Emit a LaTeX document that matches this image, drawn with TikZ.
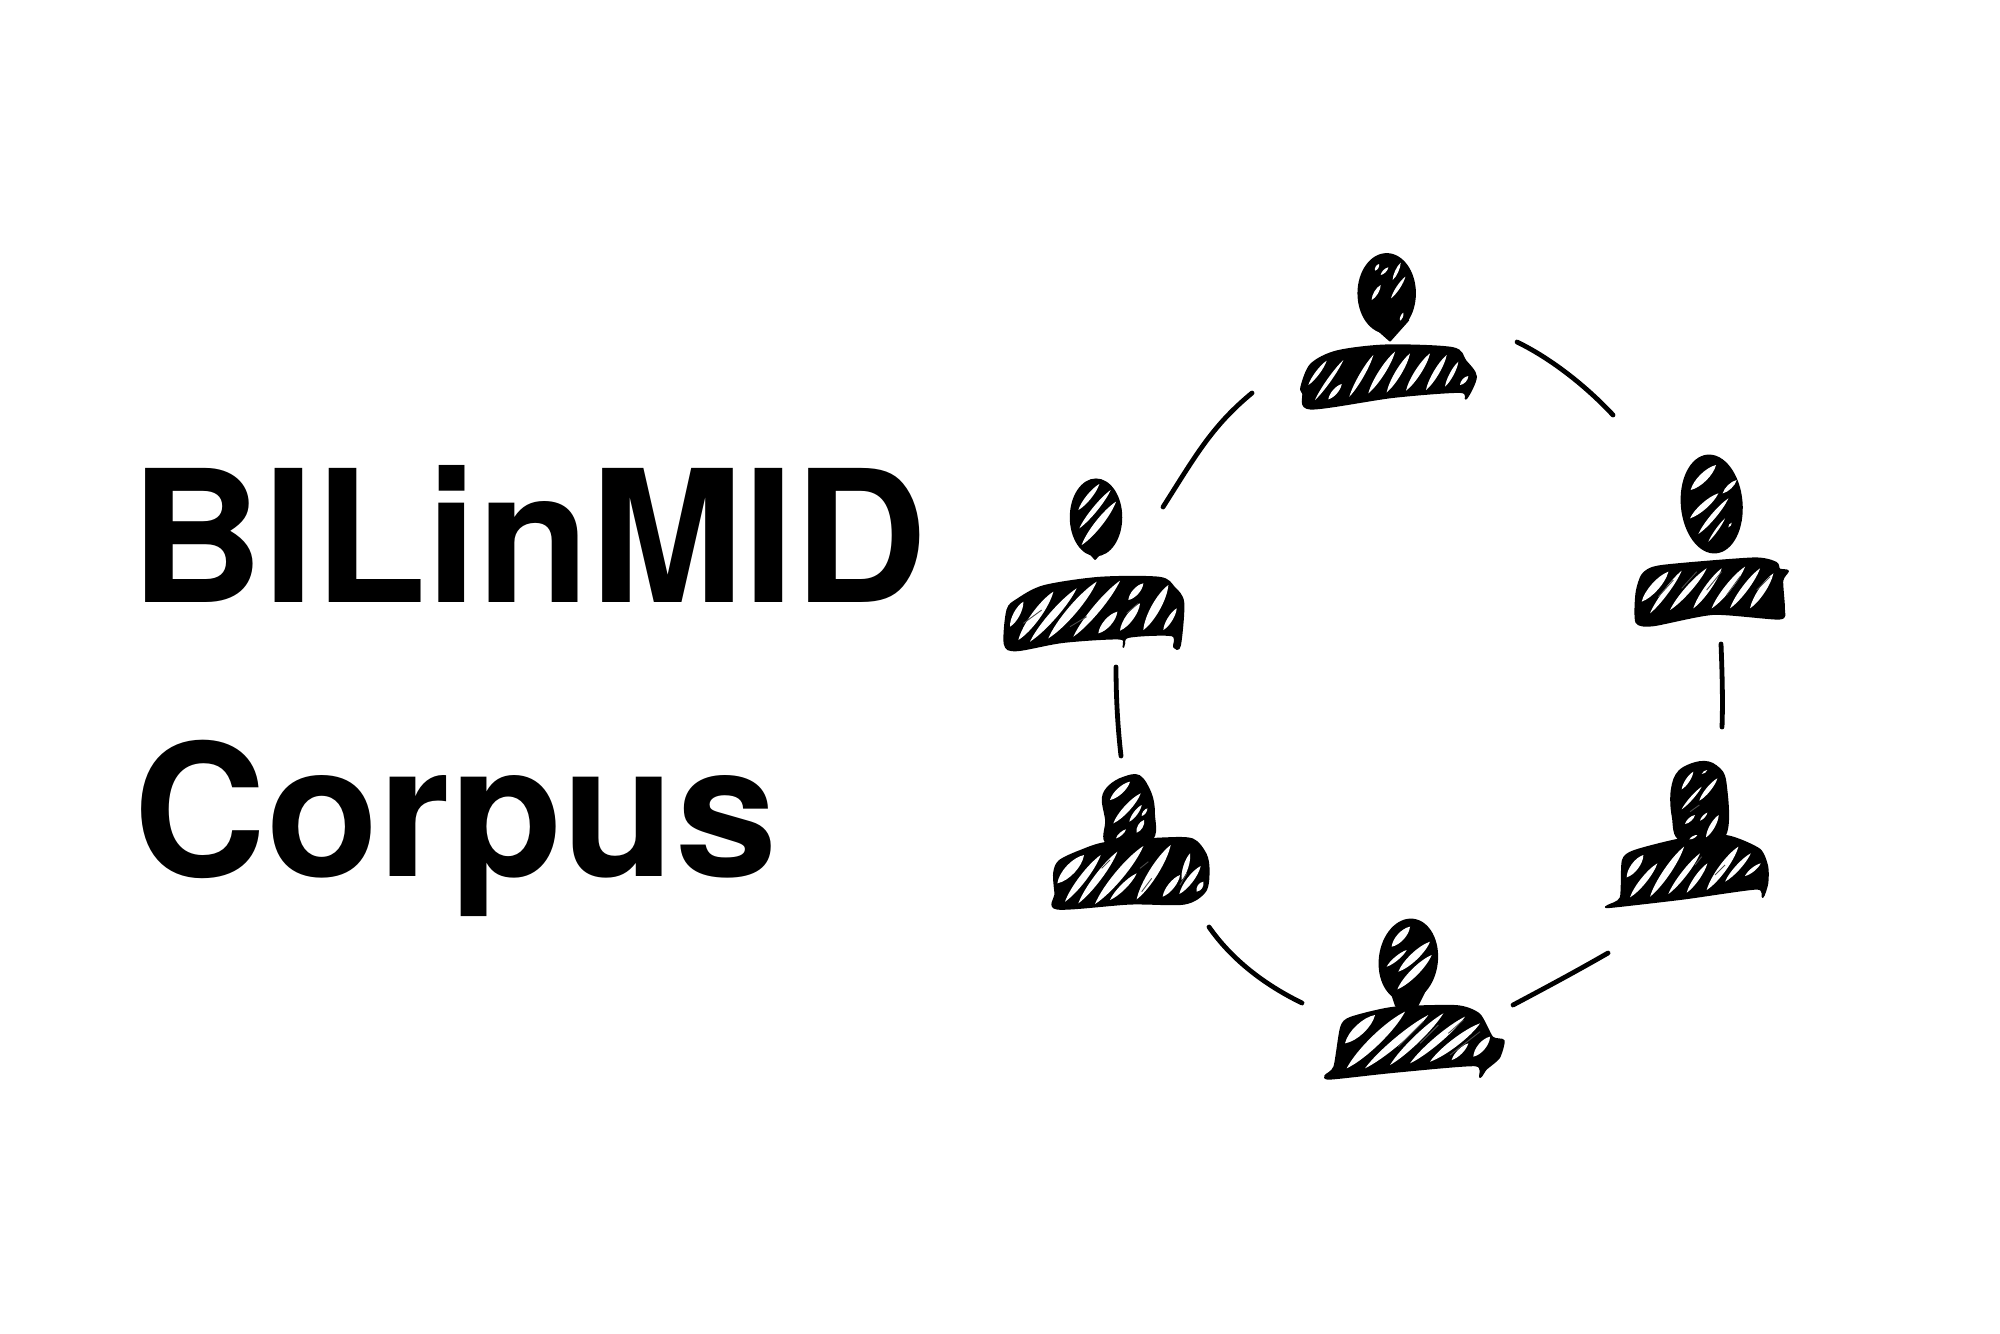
\documentclass[tikz,border=0pt]{standalone}
\usepackage{fontspec}
\setmainfont{TeX Gyre Heros}
\usetikzlibrary{calc}
\newcommand\slit[3]{\fill[white] (#1) .. controls ($(#1)!.25!(#2)!.85*#3!90:(#2)$) and ($(#1)!.75!(#2)!.85*#3!90:(#2)$) .. (#2) .. controls ($(#1)!.75!(#2)!.85*#3!-90:(#2)$) and ($(#1)!.25!(#2)!.85*#3!-90:(#2)$) .. (#1);}
\newcommand\vein[2]{\draw[veinline] (#1) -- (#2);}
\tikzset{
  title/.style={anchor=base west,inner sep=0pt,font=\fontsize{92pt}{100pt}\selectfont\bfseries},
  link/.style={draw=black,line width=2.4pt,line cap=round},
  ink/.style={fill=black,draw=black,line width=.9pt,line join=round},
  veinline/.style={draw=black!70,line width=.45pt},
  zoomed/.style={x=0.16667pt,y=-0.16667pt}
}
\begin{document}
\begin{tikzpicture}[x=0.5pt,y=-0.5pt]
\useasboundingbox (0,0) rectangle (2000,1333);
\fill[white] (0,0) rectangle (2000,1333);
\node[title] (line1) at (130,602) {BILinMID};
\node[title] (line2) at (133,876) {Corpus};

% connectors
\coordinate (a1) at (1252,393); \coordinate (a2) at (1163,507);
\coordinate (b1) at (1517,342); \coordinate (b2) at (1613,415);
\coordinate (c1) at (1721,644); \coordinate (c2) at (1722,727);
\coordinate (d1) at (1116,667); \coordinate (d2) at (1121,756);
\coordinate (e1) at (1209,927); \coordinate (e2) at (1302,1003);
\coordinate (f1) at (1608,953); \coordinate (f2) at (1513,1005);
\draw[link] (a1) .. controls (1212,426) and (1196,455) .. (a2);
\draw[link] (b1) .. controls (1550,358) and (1585,385) .. (b2);
\draw[link] (c1) .. controls (1722,670) and (1723,700) .. (c2);
\draw[link] (d1) .. controls (1116,700) and (1118,730) .. (d2);
\draw[link] (e1) .. controls (1232,960) and (1265,985) .. (e2);
\draw[link] (f1) .. controls (1575,972) and (1545,988) .. (f2);

% top person
\begin{scope}[shift={(1260,230)},zoomed]
\fill[ink] (380,190) circle[x radius=85,y radius=118];
\fill[ink] (320,270) -- (390,332) -- (445,270) -- cycle;
\fill[ink] plot[smooth cycle,tension=.5] coordinates {(124,470) (153,403) (230,364) (380,346) (578,354) (616,392) (648,440) (618,506) (600,486) (400,501) (152,536) (129,490)};
\slit{345,122}{357,102}{1.2pt}\slit{362,135}{385,112}{1.2pt}\slit{398,150}{422,98}{1.3pt}
\slit{335,210}{362,165}{1.6pt}\slit{393,205}{436,140}{1.4pt}\slit{420,272}{430,248}{1pt}
\slit{145,465}{200,392}{1.6pt}\slit{165,510}{250,390}{1.5pt}\slit{205,508}{245,462}{2pt}
\slit{268,500}{340,375}{1.8pt}\slit{325,490}{405,365}{2.4pt}\slit{380,487}{450,370}{2.4pt}
\slit{438,482}{510,370}{2.4pt}\slit{498,480}{560,375}{2.2pt}\slit{555,470}{595,395}{1.6pt}\slit{600,465}{625,438}{1.6pt}
\end{scope}

% left person
\begin{scope}[shift={(980,460)},zoomed]
\fill[ink] (348,172) circle[x radius=76,y radius=114];
\fill[ink] (300,245) -- (345,297) -- (395,245) -- cycle;
\fill[ink] plot[smooth cycle,tension=.5] coordinates {(74,552) (82,450) (113,418) (192,378) (360,353) (538,353) (582,382) (610,428) (600,556) (582,561) (575,526) (445,531) (430,561) (420,536) (250,546) (110,571)};
\slit{295,150}{358,72}{2pt}\slit{298,205}{392,90}{2pt}\slit{305,255}{408,125}{2.8pt}
\slit{90,500}{130,425}{2.5pt}\slit{115,540}{220,395}{3.5pt}\slit{150,545}{290,385}{3pt}\slit{205,535}{350,365}{3.5pt}
\slit{280,530}{420,362}{3pt}\slit{355,520}{412,455}{3pt}\slit{420,512}{480,430}{3pt}\slit{445,420}{490,370}{2.5pt}\slit{490,510}{565,375}{3.5pt}\slit{550,510}{590,445}{2pt}
\vein{130,490}{185,450}\vein{270,500}{320,470}\vein{440,460}{475,430}
\end{scope}

% lower left person
\begin{scope}[shift={(1030,760)},zoomed]
\fill[ink] plot[smooth cycle,tension=.6] coordinates {(218,115) (238,78) (280,53) (328,48) (362,100) (372,160) (362,240) (233,250) (228,180)};
\fill[ink] plot[smooth cycle,tension=.5] coordinates {(72,340) (88,303) (150,273) (230,248) (400,235) (488,238) (527,282) (536,330) (526,393) (463,431) (300,431) (82,446) (76,400)};
\slit{240,120}{300,65}{2.5pt}\slit{250,190}{332,100}{2.5pt}\slit{298,185}{335,135}{1.6pt}\slit{320,218}{342,180}{2pt}\slit{258,235}{288,208}{1.2pt}\slit{335,168}{352,145}{1.2pt}
\slit{82,370}{162,285}{4pt}\slit{105,425}{212,285}{2.8pt}\slit{145,430}{262,275}{2.8pt}\slit{195,432}{340,258}{3.5pt}
\slit{320,418}{422,255}{3.5pt}\slit{240,420}{320,340}{2.2pt}\slit{398,410}{450,345}{2.5pt}\slit{455,360}{480,280}{2pt}\slit{448,402}{512,318}{2.5pt}\slit{500,395}{520,365}{2pt}
\vein{215,325}{240,300}\vein{330,325}{355,305}\vein{335,395}{365,355}\vein{450,375}{470,340}
\end{scope}

% bottom person
\begin{scope}[shift={(1310,900)},zoomed]
\fill[ink,rotate around={-7:(295,180)}] (295,180) circle[x radius=86,y radius=122];
\fill[ink] (240,265) -- (258,318) -- (322,318) -- (348,265) -- cycle;
\fill[ink] plot[smooth cycle,tension=.4] coordinates {(46,527) (73,500) (93,382) (122,353) (250,323) (440,318) (508,343) (547,412) (581,422) (567,473) (528,507) (510,531) (495,496) (250,516) (62,536)};
\slit{245,140}{300,80}{3pt}\slit{230,200}{290,150}{1.6pt}\slit{265,215}{360,125}{3pt}\slit{262,268}{365,165}{3pt}
\slit{105,430}{195,345}{4pt}\slit{110,505}{285,335}{4pt}\slit{165,505}{355,345}{3pt}\slit{240,495}{400,340}{2.8pt}
\slit{300,490}{465,350}{2.8pt}\slit{360,485}{510,370}{3pt}\slit{425,480}{475,430}{2pt}\slit{490,470}{540,410}{3pt}
\vein{265,440}{340,365}\vein{330,430}{385,375}\vein{415,400}{460,360}\vein{420,465}{510,395}
\end{scope}

% upper right person
\begin{scope}[shift={(1600,440)},zoomed]
\fill[ink,rotate around={5:(335,192)}] (335,192) circle[x radius=90,y radius=146];
\fill[ink] plot[smooth cycle,tension=.4] coordinates {(109,547) (109,460) (128,403) (182,378) (460,355) (528,368) (538,388) (564,393) (547,422) (552,507) (538,536) (340,522) (160,556)};
\slit{272,150}{348,75}{3.2pt}\slit{368,160}{410,120}{1.8pt}\slit{270,235}{355,160}{2.5pt}\slit{295,282}{385,175}{2pt}\slit{325,305}{375,235}{1pt}\slit{385,262}{395,248}{.8pt}
\slit{125,485}{205,395}{3.2pt}\slit{150,520}{245,392}{2pt}\slit{210,510}{320,385}{2.4pt}\slit{280,505}{365,385}{2.4pt}
\slit{335,505}{435,380}{2.6pt}\slit{390,505}{480,385}{2.4pt}\slit{450,505}{520,400}{2.6pt}
\vein{175,470}{220,420}\vein{245,445}{290,395}\vein{320,450}{365,395}\vein{380,465}{420,410}\vein{470,450}{510,410}
\end{scope}

% lower right person
\begin{scope}[shift={(1600,750)},zoomed]
\fill[ink] plot[smooth cycle,tension=.6] coordinates {(215,120) (238,63) (300,36) (348,48) (377,100) (372,260) (243,270) (218,200)};
\fill[ink] plot[smooth cycle,tension=.4] coordinates {(24,467) (62,443) (68,332) (102,303) (240,268) (380,258) (478,298) (502,350) (502,400) (488,441) (470,416) (250,446) (32,471)};
\slit{245,118}{280,65}{1.6pt}\slit{305,72}{322,60}{.8pt}\slit{245,178}{305,110}{1.2pt}\slit{298,152}{352,85}{1.8pt}\slit{255,222}{285,195}{1.4pt}\slit{300,212}{322,188}{1pt}\slit{318,262}{356,195}{2pt}\slit{268,268}{292,255}{.9pt}
\slit{80,382}{130,315}{3pt}\slit{90,442}{172,340}{2.4pt}\slit{150,440}{252,290}{2.8pt}\slit{205,432}{300,310}{2.2pt}\slit{260,428}{322,340}{2pt}
\slit{320,420}{415,290}{3pt}\slit{375,395}{452,310}{2pt}\slit{435,378}{482,340}{1.5pt}
\vein{270,185}{298,165}\vein{285,345}{305,320}\vein{345,375}{375,345}
\end{scope}
\end{tikzpicture}
\end{document}
